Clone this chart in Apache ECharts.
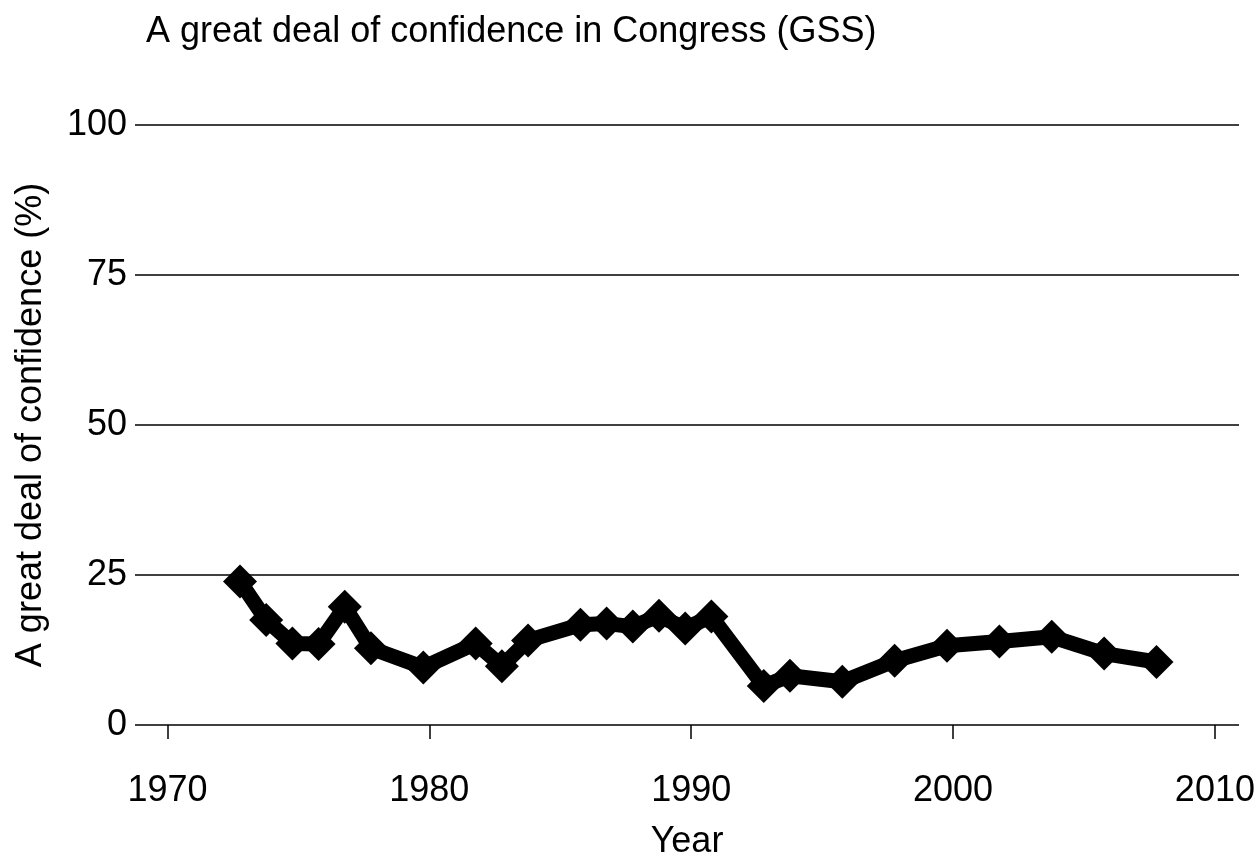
<!DOCTYPE html>
<html>
<head>
<meta charset="utf-8">
<script src="https://cdn.jsdelivr.net/npm/echarts@6/dist/echarts.min.js"></script>
<style>
  html, body { margin: 0; padding: 0; background: #fff; }
  #confidence-chart { width: 1260px; height: 861px; }
</style>
</head>
<body>
<div id="confidence-chart"></div>
<script>
// GSS survey years and share with "a great deal" of confidence in Congress (%)
const years = [1973, 1974, 1975, 1976, 1977, 1978, 1980, 1982, 1983, 1984, 1986, 1987, 1988,
  1989, 1990, 1991, 1993, 1994, 1996, 1998, 2000, 2002, 2004, 2006, 2008]
const confidence = [23.9, 17.5, 13.6, 13.5, 19.7, 12.8, 9.6, 13.6, 9.8, 14.1, 16.7, 16.9, 16.4,
  18.2, 16.1, 18.1, 6.5, 8.2, 7.2, 10.7, 13.2, 13.9, 14.7, 11.9, 10.5]
const yearTicks = [1970, 1980, 1990, 2000, 2010]
const percentTicks = [0, 25, 50, 75, 100]

// points sit a little left of the year ticks in the original plot
const yearShift = -0.23

const font = 'Liberation Sans, Arial, sans-serif'
const chart = echarts.init(document.getElementById('confidence-chart'))

const option = {
  animation: false,
  backgroundColor: '#fff',
  title: {
    text: 'A great deal of confidence in Congress (GSS)',
    left: 141,
    top: 9,
    textStyle: { fontFamily: font, fontSize: 36, fontWeight: 'normal', color: '#000' }
  },
  grid: {
    left: 135,
    right: 21,
    top: 125,
    bottom: 136,
    outerBoundsMode: 'none'
  },
  xAxis: {
    type: 'value',
    min: 1968.76,
    max: 2010.92,
    offset: 23,
    name: 'Year',
    nameLocation: 'middle',
    nameGap: 76,
    nameTextStyle: { fontFamily: font, fontSize: 36, color: '#000' },
    axisLine: { show: false },
    axisTick: {
      show: true,
      customValues: yearTicks,
      length: 14,
      lineStyle: { color: '#000', width: 1.5 }
    },
    axisLabel: {
      customValues: yearTicks,
      formatter: v => String(v),
      margin: 25,
      fontFamily: font,
      fontSize: 36,
      color: '#000'
    },
    splitLine: { show: false }
  },
  yAxis: {
    type: 'value',
    min: 0,
    max: 100,
    interval: 25,
    name: 'A great deal of confidence (%)',
    nameLocation: 'middle',
    nameGap: 86,
    nameTextStyle: { fontFamily: font, fontSize: 36, color: '#000' },
    axisLine: { show: false },
    axisTick: { show: false },
    axisLabel: {
      customValues: percentTicks,
      margin: 8,
      fontFamily: font,
      fontSize: 36,
      color: '#000'
    },
    splitLine: {
      show: true,
      lineStyle: { color: '#000', width: 1.5 }
    }
  },
  series: [
    {
      type: 'line',
      data: years.map((y, i) => [y + yearShift, confidence[i]]),
      symbol: 'diamond',
      symbolSize: 34,
      showSymbol: true,
      itemStyle: { color: '#000' },
      lineStyle: { color: '#000', width: 15, join: 'round', cap: 'round' },
      z: 3
    }
  ]
}

chart.setOption(option)
</script>
</body>
</html>
